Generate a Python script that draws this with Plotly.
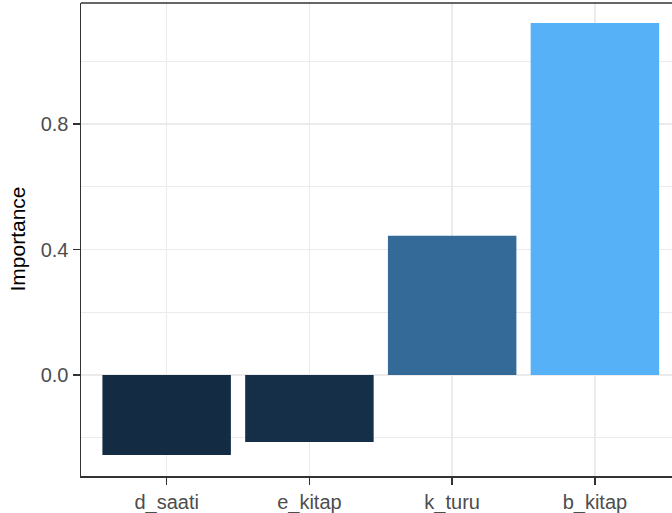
import plotly.graph_objects as go

categories = ["d_saati", "e_kitap", "k_turu", "b_kitap"]
importance = [-0.255, -0.214, 0.444, 1.122]
bar_colors = ["#132B43", "#152F48", "#336A98", "#56B1F7"]
y_tick_vals = [0.0, 0.4, 0.8]
y_tick_text = ["0.0", "0.4", "0.8"]

fig = go.Figure()
fig.add_trace(go.Bar(
    x=categories,
    y=importance,
    width=0.9,
    marker=dict(color=bar_colors, line=dict(width=0)),
    showlegend=False,
))

axis_col = "#333333"
grid_col = "#EBEBEB"
font_fam = "Liberation Sans, Arial, sans-serif"

fig.update_layout(
    width=672,
    height=513,
    margin=dict(l=81, r=0, t=3, b=37, autoexpand=False),
    paper_bgcolor="white",
    plot_bgcolor="white",
    font=dict(family=font_fam, size=20, color="#4D4D4D"),
    bargap=0.1,
    xaxis=dict(
        range=[-0.6, 3.54],
        showgrid=True,
        gridcolor=grid_col,
        gridwidth=1.5,
        showline=True,
        linecolor=axis_col,
        linewidth=1.5,
        ticks="outside",
        ticklen=7,
        tickwidth=1.5,
        tickcolor=axis_col,
        tickfont=dict(size=20, color="#4D4D4D"),
        zeroline=False,
        fixedrange=True,
    ),
    yaxis=dict(
        range=[-0.322, 1.186],
        tickvals=y_tick_vals,
        ticktext=y_tick_text,
        showgrid=True,
        gridcolor=grid_col,
        gridwidth=1.5,
        minor=dict(dtick=0.2, tick0=0.0, showgrid=True, gridcolor=grid_col, gridwidth=1.2),
        showline=True,
        linecolor=axis_col,
        linewidth=1.5,
        ticks="outside",
        ticklen=7,
        tickwidth=1.5,
        tickcolor=axis_col,
        tickfont=dict(size=20, color="#4D4D4D"),
        zeroline=False,
        fixedrange=True,
    ),
    shapes=[dict(
        type="line", xref="paper", yref="paper",
        x0=0, x1=1, y0=1, y1=1,
        line=dict(color=axis_col, width=1.5),
    )],
    annotations=[dict(
        text="Importance",
        xref="paper", yref="paper",
        x=0, y=0.5,
        xanchor="center", yanchor="middle",
        xshift=-64,
        textangle=-90,
        showarrow=False,
        font=dict(family=font_fam, size=21, color="black"),
    )],
)

fig.write_html(
    "out.html",
    config={"displayModeBar": False, "staticPlot": True},
    post_script="document.body.style.margin='0';document.body.style.padding='0';",
)
